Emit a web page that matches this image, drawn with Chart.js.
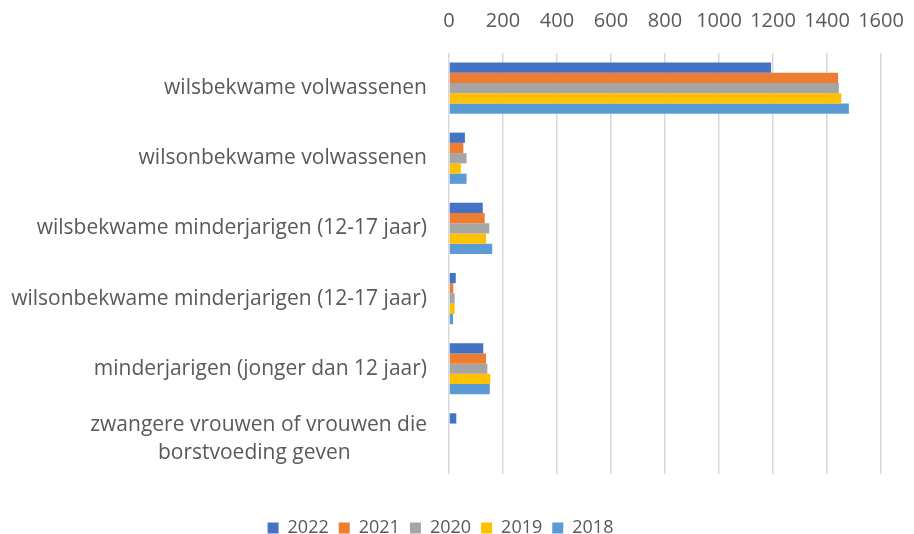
<!DOCTYPE html>
<html>
<head>
<meta charset="utf-8">
<script src="https://cdn.jsdelivr.net/npm/chart.js@4.4.1/dist/chart.umd.min.js"></script>
<style>
  html, body { margin: 0; padding: 0; background: #fff; }
  #wrap { width: 914px; height: 534px; }
</style>
</head>
<body>
<div id="wrap"><canvas id="chart"></canvas></div>
<script>
const categories = [
  "wilsbekwame volwassenen",
  "wilsonbekwame volwassenen",
  "wilsbekwame minderjarigen (12-17 jaar)",
  "wilsonbekwame minderjarigen (12-17 jaar)",
  "minderjarigen (jonger dan 12 jaar)",
  // second line padded so it sits centred under the first one
  ["zwangere vrouwen of vrouwen die", "borstvoeding geven" + "\u00a0".repeat(14)]
];

const years = ["2022", "2021", "2020", "2019", "2018"];
const values2022 = [1193, 59, 125, 25, 127, 27];
const values2021 = [1441, 53, 132, 16, 137, 0];
const values2020 = [1444, 65, 149, 21, 142, 0];
const values2019 = [1453, 44, 137, 21, 153, 0];
const values2018 = [1481, 65, 160, 15, 151, 0];

const colors = ["#4472C4", "#ED7D31", "#A5A5A5", "#FFC000", "#5B9BD5"];
const allValues = [values2022, values2021, values2020, values2019, values2018];

const textColor = "#595959";
const fontFamily = "'Open Sans', sans-serif";

// fixed legend height, items drawn lower down like the original
const legendPlace = {
  id: "legendPlace",
  beforeInit(chart) {
    const legend = chart.legend;
    const fit = legend.fit;
    legend.fit = function () {
      fit.bind(legend)();
      this.height = 60;
    };
    const draw = legend.draw;
    legend.draw = function () {
      const ctx = chart.ctx;
      ctx.save();
      ctx.translate(0, 35);
      draw.apply(legend, arguments);
      ctx.restore();
    };
  }
};

new Chart(document.getElementById("chart"), {
  type: "bar",
  data: {
    labels: categories,
    datasets: years.map((y, i) => ({
      label: y,
      data: allValues[i],
      backgroundColor: colors[i],
      borderWidth: 0,
      categoryPercentage: 0.73,
      barPercentage: 1
    }))
  },
  options: {
    indexAxis: "y",
    responsive: true,
    maintainAspectRatio: false,
    animation: false,
    layout: { padding: { left: 0, right: 33, top: 0, bottom: 0 } },
    scales: {
      x: {
        position: "top",
        min: 0,
        max: 1600,
        ticks: {
          stepSize: 200,
          color: textColor,
          font: { family: fontFamily, size: 20 },
          padding: 20,
          maxRotation: 0,
          callback: v => String(v)
        },
        grid: { color: "#d9d9d9", lineWidth: 1.5, drawTicks: false },
        border: { display: false },
        afterFit(scale) {
          scale.height = 53;
          scale.paddingLeft = 0;
          scale.paddingRight = 0;
        }
      },
      y: {
        ticks: {
          color: textColor,
          font: { family: fontFamily, size: 21, lineHeight: 1.3 },
          padding: 22,
          autoSkip: false
        },
        grid: { display: false, drawTicks: false },
        border: { display: false },
        afterFit(scale) { scale.width = 449; }
      }
    },
    plugins: {
      legend: {
        position: "bottom",
        labels: {
          color: textColor,
          font: { family: fontFamily, size: 18 },
          boxWidth: 11,
          boxHeight: 11,
          padding: 10
        }
      },
      tooltip: { enabled: false }
    }
  },
  plugins: [legendPlace]
});
</script>
</body>
</html>
